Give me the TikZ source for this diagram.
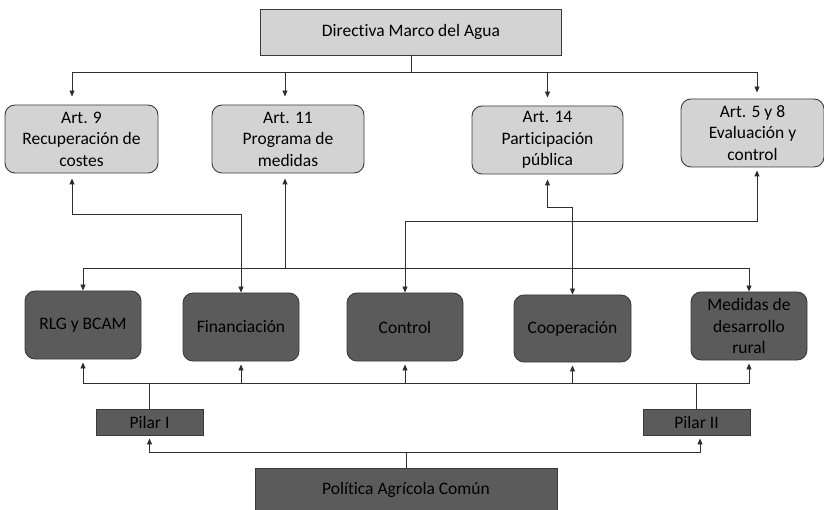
\documentclass[tikz,border=0pt]{standalone}
\usepackage{fontspec}
\setmainfont{Carlito}[RawFeature={-liga,-dlig}]
\usetikzlibrary{arrows.meta}
\definecolor{lightbox}{HTML}{D3D3D3}
\definecolor{darkbox}{HTML}{5B5B5B}
\definecolor{edge}{HTML}{3A3A3A}
\definecolor{wire}{HTML}{2E2E2E}
\begin{document}
\begin{tikzpicture}[x=1pt,y=-1pt,
  every node/.style={font=\fontsize{17.5}{21.5}\selectfont, align=center, inner sep=0pt},
  lightsq/.style={draw=edge, fill=lightbox, line width=0.9pt},
  lightrnd/.style={draw=edge, fill=lightbox, line width=0.9pt, rounded corners=10pt},
  darkrnd/.style={draw=edge, fill=darkbox, line width=0.9pt, rounded corners=10pt},
  darksq/.style={draw=edge, fill=darkbox, line width=0.9pt},
  wireline/.style={draw=wire, line width=0.9pt},
  tip/.style={wireline, -{Triangle[length=6pt,width=5pt]}},
  tiptwo/.style={wireline, {Triangle[length=6pt,width=5pt]}-{Triangle[length=6pt,width=5pt]}}
]
\useasboundingbox (0,0) rectangle (824,510);

% top box
\node[lightsq, minimum width=301pt, minimum height=46pt] (dma) at (411,32) {Directiva Marco del Agua};

% article boxes
\node[lightrnd, minimum width=153pt, minimum height=68pt] (art9) at (81.5,139) {Art. 9\\Recuperación de\\costes};
\node[lightrnd, minimum width=152pt, minimum height=68pt] (art11) at (288,139) {Art. 11\\Programa de\\medidas};
\node[lightrnd, minimum width=151pt, minimum height=68pt] (art14) at (547.5,140) {Art. 14\\Participación\\pública};
\node[lightrnd, minimum width=143pt, minimum height=68pt] (art58) at (752.5,133) {Art. 5 y 8\\Evaluación y\\control};

% middle boxes
\node[darkrnd, minimum width=116pt, minimum height=68pt] (rlg) at (83,325) {RLG y BCAM};
\node[darkrnd, minimum width=116pt, minimum height=68pt] (fin) at (241,327) {Financiación};
\node[darkrnd, minimum width=116pt, minimum height=68pt] (ctl) at (405,327) {Control};
\node[darkrnd, minimum width=117pt, minimum height=67pt] (coop) at (572.5,328.5) {Cooperación};
\node[darkrnd, minimum width=116pt, minimum height=68pt] (med) at (749,326) {Medidas de\\desarrollo\\rural};

% pillars
\node[darksq, minimum width=107pt, minimum height=26pt] (p1) at (149.5,422) {Pilar I};
\node[darksq, minimum width=107pt, minimum height=26pt] (p2) at (696.5,422) {Pilar II};

% PAC
\node[darksq, minimum width=302pt, minimum height=44pt] (pac) at (406,490) {Política Agrícola Común};

% top bus
\coordinate (bus1) at (411,72);
\draw[wireline] (dma.south) -- (bus1);
\draw[tip, shorten >=8pt] (bus1) -| ([xshift=-9.5pt]art9.north);
\draw[tip, shorten >=8pt] (bus1) -| ([xshift=-3pt]art11.north);
\draw[tip, shorten >=8pt] (bus1) -| (art14.north);
\draw[tip, shorten >=6pt] (bus1) -| ([xshift=4.5pt]art58.north);

% Art 9 <-> Financiacion
\draw[tiptwo, shorten <=5pt] ([xshift=-9.5pt]art9.south) -- ++(0,41) -| (fin.north);

% Art 11 -> RLG, Medidas
\coordinate (bus2) at (285,268);
\draw[tip, shorten >=5pt] (bus2) -- ([xshift=-3pt]art11.south);
\draw[tip] (bus2) -| (rlg.north);
\draw[tip] (bus2) -| (med.north);

% Art 5y8 <-> Control
\draw[tiptwo, shorten <=3pt] ([xshift=4.5pt]art58.south) -- ++(0,54) -| (ctl.north);

% Art 14 <-> Cooperacion
\draw[tiptwo, shorten <=5pt] (art14.south) -- ++(0,33) -| (coop.north);

% bottom bus
\coordinate (bus3) at (400,383);
\draw[wireline] (p1.north) -- (p1.north |- bus3);
\draw[wireline] (p2.north) -- (p2.north |- bus3);
\draw[tip, shorten >=3pt] (p1.north |- bus3) -| (rlg.south);
\draw[tip, shorten >=3pt] (p1.north |- bus3) -| (fin.south);
\draw[tip, shorten >=3pt] (p1.north |- bus3) -| (ctl.south);
\draw[tip, shorten >=3pt] (p2.north |- bus3) -| (coop.south);
\draw[tip, shorten >=3pt] (p2.north |- bus3) -| (med.south);
\draw[wireline] (p2.north |- bus3) -- (ctl.south |- bus3);

% PAC -> pillars
\coordinate (bus4) at (406,452);
\draw[wireline] (pac.north) -- (bus4);
\draw[tip, shorten >=3pt] (bus4) -| (p1.south);
\draw[tip, shorten >=3pt] (bus4) -| ([xshift=3.5pt]p2.south);
\end{tikzpicture}
\end{document}
